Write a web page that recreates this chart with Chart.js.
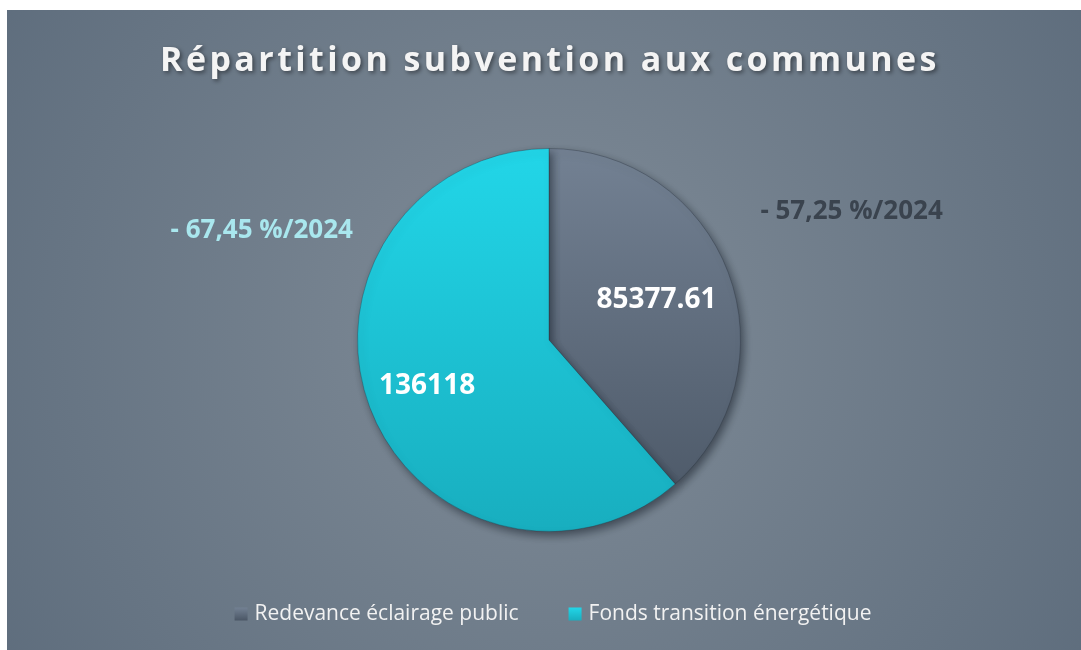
<!DOCTYPE html>
<html>
<head>
<meta charset="utf-8">
<script src="https://cdn.jsdelivr.net/npm/chart.js@4.4.1/dist/chart.umd.min.js"></script>
<style>
    html, body { margin: 0; padding: 0; background: #fff; }
    #wrap { position: absolute; left: 7px; top: 10px; width: 1074px; height: 640px; }
</style>
</head>
<body>
<div id="wrap"><canvas id="pieChart"></canvas></div>
<script>
const TITLE = 'Répartition subvention aux communes';

const categories = ['Redevance éclairage public', 'Fonds transition énergétique'];
const values = [85377.61, 136118];
const valueLabels = ['85377.61', '136118'];
const changeLabels = ['- 57,25 %/2024', '- 67,45 %/2024'];

// colours: [top, bottom] of each slice
const sliceColors = [['#738193', '#4a5665'], ['#22d6e8', '#18aebf']];
const changeColors = ['#3a434e', '#a9e7ee'];
// where the change labels sit, in pie radii from the centre
const changeOffsets = [[1.58, -0.67], [-1.50, -0.57]];

function sliceGradient(ctx) {
    const chart = ctx.chart;
    const area = chart.chartArea;
    if (!area) return sliceColors[ctx.dataIndex][0];
    const g = chart.ctx.createLinearGradient(0, area.top, 0, area.bottom);
    g.addColorStop(0, sliceColors[ctx.dataIndex][0]);
    g.addColorStop(1, sliceColors[ctx.dataIndex][1]);
    return g;
}

const decor = {
    id: 'decor',
    beforeDraw(chart) {
        const { ctx, width, height } = chart;
        const g = ctx.createRadialGradient(width / 2, height / 2, 20, width / 2, height / 2, width * 0.62);
        g.addColorStop(0, '#7f8b97');
        g.addColorStop(1, '#5d6c7c');
        ctx.save();
        ctx.fillStyle = g;
        ctx.fillRect(0, 0, width, height);

        // title
        ctx.font = 'bold 34px "Open Sans"';
        ctx.letterSpacing = '3.4px';
        ctx.textAlign = 'center';
        ctx.textBaseline = 'middle';
        ctx.shadowColor = 'rgba(0,0,0,0.45)';
        ctx.shadowBlur = 4;
        ctx.shadowOffsetX = 2;
        ctx.shadowOffsetY = 2;
        ctx.fillStyle = '#f4f4f4';
        ctx.fillText(TITLE, width / 2 + 6, 51);
        ctx.restore();

        // legend
        ctx.save();
        ctx.font = '21px "Open Sans"';
        ctx.textBaseline = 'middle';
        const box = 13, gap = 7, itemGap = 50;
        const widths = categories.map(c => box + gap + ctx.measureText(c).width);
        const total = widths.reduce((a, b) => a + b, 0) + itemGap * (categories.length - 1);
        let x = width / 2 + 9 - total / 2;
        const y = 604;
        categories.forEach((c, i) => {
            const bg = ctx.createLinearGradient(0, y - box / 2, 0, y + box / 2);
            bg.addColorStop(0, sliceColors[i][0]);
            bg.addColorStop(1, sliceColors[i][1]);
            ctx.fillStyle = bg;
            ctx.fillRect(x, y - box / 2, box, box);
            ctx.fillStyle = '#f2f2f2';
            ctx.fillText(c, x + box + gap, y);
            x += widths[i] + itemGap;
        });
        ctx.restore();
    },
    beforeDatasetsDraw(chart) {
        const ctx = chart.ctx;
        ctx.save();
        ctx.shadowColor = 'rgba(20,28,38,0.55)';
        ctx.shadowBlur = 9;
        ctx.shadowOffsetX = 3;
        ctx.shadowOffsetY = 4;
    },
    afterDatasetsDraw(chart) {
        const ctx = chart.ctx;
        ctx.restore();
        const arcs = chart.getDatasetMeta(0).data;
        ctx.save();
        ctx.textAlign = 'center';
        ctx.textBaseline = 'middle';
        arcs.forEach((arc, i) => {
            const { x, y, startAngle, endAngle, outerRadius } = arc.getProps(['x', 'y', 'startAngle', 'endAngle', 'outerRadius'], true);
            const mid = (startAngle + endAngle) / 2;
            const r = outerRadius * (i === 0 ? 0.6 : 0.68);
            ctx.font = 'bold 28px "Open Sans"';
            ctx.fillStyle = '#ffffff';
            ctx.fillText(valueLabels[i], x + Math.cos(mid) * r, y + Math.sin(mid) * r);

            ctx.font = 'bold 26px "Open Sans"';
            ctx.fillStyle = changeColors[i];
            ctx.fillText(changeLabels[i], x + changeOffsets[i][0] * outerRadius, y + changeOffsets[i][1] * outerRadius);
        });
        ctx.restore();
    }
};

document.addEventListener('DOMContentLoaded', () => {
    const ctx = document.getElementById('pieChart').getContext('2d');
    new Chart(ctx, {
        type: 'pie',
        data: {
            labels: categories,
            datasets: [{
                data: values,
                backgroundColor: sliceGradient,
                borderColor: 'rgba(40,50,60,0.35)',
                borderWidth: 1
            }]
        },
        options: {
            responsive: true,
            maintainAspectRatio: false,
            animation: false,
            layout: { padding: { top: 138, bottom: 118, left: 350, right: 340 } },
            plugins: {
                legend: { display: false },
                title: { display: false },
                tooltip: { enabled: false }
            }
        },
        plugins: [decor]
    });
});
</script>
</body>
</html>
